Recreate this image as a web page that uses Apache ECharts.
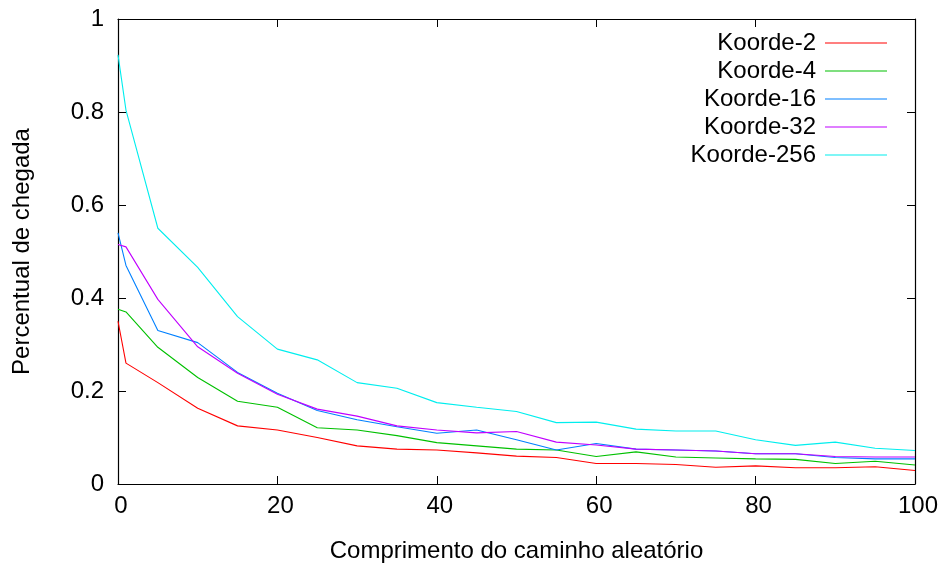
<!DOCTYPE html>
<html>
<head>
<meta charset="utf-8">
<script src="https://cdn.jsdelivr.net/npm/echarts@6/dist/echarts.min.js"></script>
<style>
  html, body { margin: 0; padding: 0; background: #fff; }
  #chart { width: 942px; height: 569px; }
</style>
</head>
<body>
<div id="chart"></div>
<script>
// Random-walk length (x) shared by every series
const walkLength = [0, 1, 5, 10, 15, 20, 25, 30, 35, 40, 45, 50, 55, 60, 65, 70, 75, 80, 85, 90, 95, 100];

// Arrival ratio for each Koorde degree
const koorde2   = [0.350, 0.260, 0.218, 0.163, 0.125, 0.116, 0.100, 0.082, 0.075, 0.073, 0.067, 0.060, 0.057, 0.044, 0.044, 0.042, 0.036, 0.039, 0.035, 0.035, 0.037, 0.029];
const koorde4   = [0.376, 0.370, 0.294, 0.229, 0.178, 0.165, 0.121, 0.116, 0.104, 0.089, 0.082, 0.075, 0.073, 0.059, 0.069, 0.058, 0.056, 0.054, 0.053, 0.044, 0.049, 0.041];
const koorde16  = [0.540, 0.470, 0.330, 0.304, 0.240, 0.195, 0.158, 0.138, 0.123, 0.109, 0.116, 0.095, 0.073, 0.087, 0.075, 0.073, 0.071, 0.065, 0.065, 0.057, 0.054, 0.054];
const koorde32  = [0.515, 0.510, 0.397, 0.295, 0.238, 0.193, 0.161, 0.146, 0.125, 0.116, 0.110, 0.113, 0.090, 0.084, 0.075, 0.073, 0.071, 0.065, 0.065, 0.059, 0.058, 0.058];
const koorde256 = [0.923, 0.804, 0.550, 0.466, 0.360, 0.290, 0.267, 0.218, 0.206, 0.175, 0.165, 0.156, 0.132, 0.133, 0.118, 0.114, 0.114, 0.095, 0.083, 0.090, 0.077, 0.072];

const seriesNames = ['Koorde-2', 'Koorde-4', 'Koorde-16', 'Koorde-32', 'Koorde-256'];
const seriesValues = [koorde2, koorde4, koorde16, koorde32, koorde256];
const seriesColors = ['#ff0000', '#00c000', '#0080ff', '#c000ff', '#00eeee'];

const xTicks = { min: 0, max: 100, interval: 20 };
const yTicks = { min: 0, max: 1, interval: 0.2 };

const FONT = 'Liberation Sans, Arial, Helvetica, sans-serif';
const chart = echarts.init(document.getElementById('chart'), null, { renderer: 'canvas' });

const tickStyle = { show: true, inside: true, length: 8, lineStyle: { color: '#000', width: 1 } };
const lineStyleAxis = { show: true, onZero: false, lineStyle: { color: '#000', width: 1.2 } };

chart.setOption({
  animation: false,
  backgroundColor: '#fff',
  grid: { left: 118, right: 27, top: 19, bottom: 85, containLabel: false },
  legend: {
    orient: 'vertical',
    right: 50,
    top: 26,
    align: 'right',
    itemWidth: 62,
    itemHeight: 1,
    itemGap: 4,
    icon: 'rect',
    selectedMode: false,
    textStyle: { fontFamily: FONT, fontSize: 24, color: '#000', width: 130, align: 'right', padding: [0, 4, 0, 0] },
    data: seriesNames
  },
  xAxis: [
    {
      type: 'value', position: 'bottom', min: xTicks.min, max: xTicks.max, interval: xTicks.interval,
      name: 'Comprimento do caminho aleatório', nameLocation: 'middle', nameGap: 55,
      nameTextStyle: { fontFamily: FONT, fontSize: 24, color: '#000' },
      axisLine: lineStyleAxis, axisTick: tickStyle,
      axisLabel: { fontFamily: FONT, fontSize: 24, color: '#000', margin: 10, padding: [0, 0, 0, 6] },
      splitLine: { show: false }
    },
    {
      type: 'value', position: 'top', min: xTicks.min, max: xTicks.max, interval: xTicks.interval,
      axisLine: lineStyleAxis, axisTick: tickStyle, axisLabel: { show: false }, splitLine: { show: false }
    }
  ],
  yAxis: [
    {
      type: 'value', position: 'left', min: yTicks.min, max: yTicks.max, interval: yTicks.interval,
      name: 'Percentual de chegada', nameLocation: 'middle', nameGap: 84, nameRotate: 90,
      nameTextStyle: { fontFamily: FONT, fontSize: 24, color: '#000' },
      axisLine: lineStyleAxis, axisTick: tickStyle,
      axisLabel: { fontFamily: FONT, fontSize: 24, color: '#000', margin: 14 },
      splitLine: { show: false }
    },
    {
      type: 'value', position: 'right', min: yTicks.min, max: yTicks.max, interval: yTicks.interval,
      axisLine: lineStyleAxis, axisTick: tickStyle, axisLabel: { show: false }, splitLine: { show: false }
    }
  ],
  series: seriesNames.map((name, i) => ({
    name: name,
    type: 'line',
    xAxisIndex: 0,
    yAxisIndex: 0,
    showSymbol: false,
    symbol: 'none',
    color: seriesColors[i],
    lineStyle: { color: seriesColors[i], width: 1.1 },
    data: walkLength.map((x, j) => [x, seriesValues[i][j]])
  }))
});
</script>
</body>
</html>
